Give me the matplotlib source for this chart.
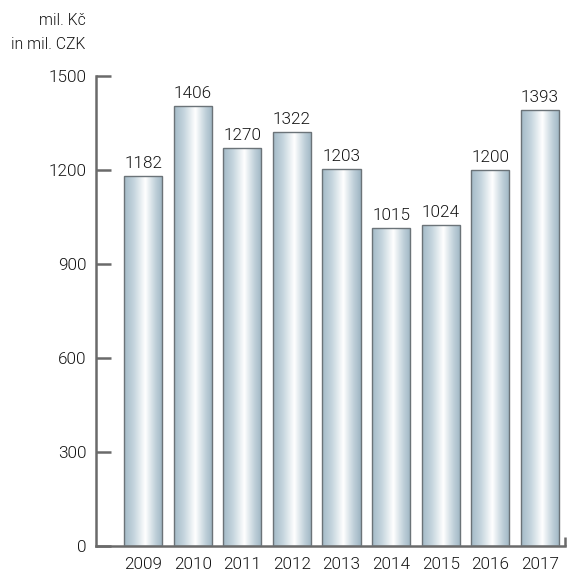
import numpy as np
import matplotlib
matplotlib.use("Agg")
import matplotlib.pyplot as plt
from matplotlib.colors import LinearSegmentedColormap
from matplotlib.patches import Rectangle

years = ["2009", "2010", "2011", "2012", "2013", "2014", "2015", "2016", "2017"]
values = [1182, 1406, 1270, 1322, 1203, 1015, 1024, 1200, 1393]
yticks = [0, 300, 600, 900, 1200, 1500]
unit_cz = "mil. Kč"
unit_en = "in mil. CZK"

plt.rcParams['font.family'] = ['Roboto', 'DejaVu Sans']
plt.rcParams['font.weight'] = 300
txt = "#151515"
axc = "#6a6a6a"
fs = 12.3

fig = plt.figure(figsize=(5.68, 5.73), dpi=100)
ax = fig.add_axes([0.169, 0.047, 0.826, 0.82])

cmap = LinearSegmentedColormap.from_list(
    "bar", [(0.0, "#a3bac7"), (0.25, "#c4d4dd"), (0.55, "#ffffff"),
            (0.8, "#c2d2db"), (1.0, "#9db4c2")])
grad = np.linspace(0, 1, 256).reshape(1, -1)

x = np.arange(len(years))
w = 0.77
for xi, v in zip(x, values):
    im = ax.imshow(grad, cmap=cmap, aspect="auto",
                   extent=(xi - w / 2, xi + w / 2, 0, v), zorder=2)
    rect = Rectangle((xi - w / 2, 0), w, v, facecolor="none",
                     edgecolor="#6b7378", linewidth=1.0, zorder=3)
    ax.add_patch(rect)
    im.set_clip_path(rect)
    ax.text(xi, v + 16, str(v), ha="center", va="bottom", fontsize=fs,
            color=txt)

ax.set_xlim(-0.95, 8.51)
ax.set_ylim(0, 1500)
ax.set_xticks(x)
ax.set_xticklabels(years)
ax.set_yticks(yticks)
ax.tick_params(axis="y", direction="in", length=11, width=1.8, color=axc,
               labelsize=fs, labelcolor=txt, pad=7)
ax.tick_params(axis="x", length=0, labelsize=fs, labelcolor=txt, pad=8)
for s in ["top", "right"]:
    ax.spines[s].set_visible(False)
for s in ["left", "bottom"]:
    ax.spines[s].set_color(axc)
    ax.spines[s].set_linewidth(1.8)
# small upward tick at right end of x axis
ax.plot([8.51, 8.51], [0, 30], color=axc, linewidth=1.8, clip_on=False,
        solid_capstyle="butt", zorder=4)

fig.text(0.151, 0.965, unit_cz, ha="right", va="center", fontsize=fs - 1,
         color=txt)
fig.text(0.151, 0.923, unit_en, ha="right", va="center", fontsize=fs - 1,
         color=txt)

fig.savefig("out.png", dpi=100)
